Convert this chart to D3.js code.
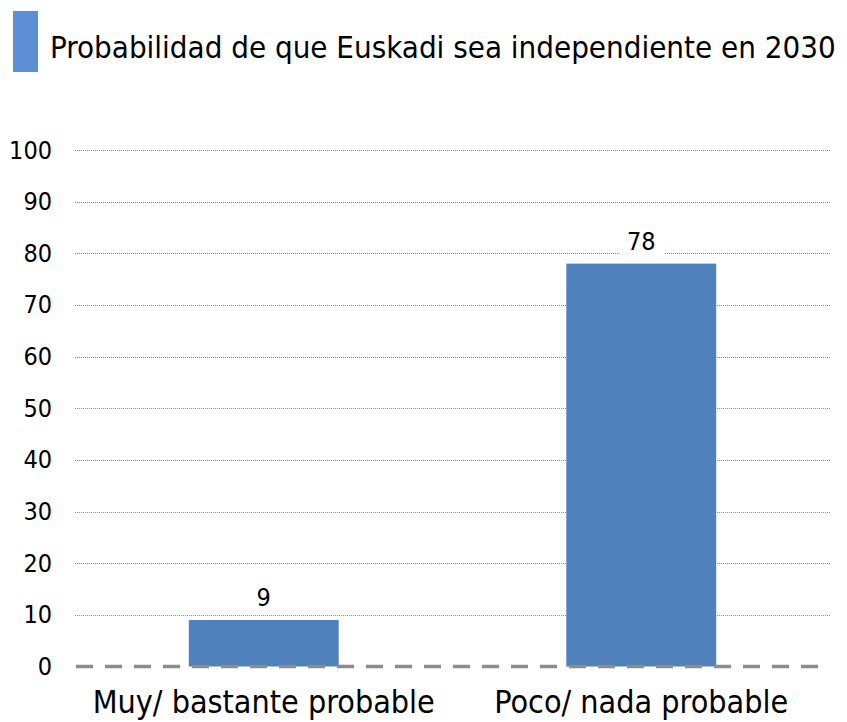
<!DOCTYPE html>
<html>
<head>
<meta charset="utf-8">
<script src="https://cdn.jsdelivr.net/npm/d3@7"></script>
<style>
  body { margin: 0; background: #fff; }
  text { font-family: "DejaVu Sans Condensed", "DejaVu Sans", sans-serif; fill: #000; }
</style>
</head>
<body>
<svg id="chart" width="847" height="722"></svg>
<script>
var title = "Probabilidad de que Euskadi sea independiente en 2030";
var categories = ["Muy/ bastante probable", "Poco/ nada probable"];
var values = [9, 78];
var yTicks = [0, 10, 20, 30, 40, 50, 60, 70, 80, 90, 100];

var margin = {top: 150, right: 17, bottom: 56, left: 75};
var svg = d3.select("#chart");
var width = +svg.attr("width") - margin.left - margin.right;
var height = +svg.attr("height") - margin.top - margin.bottom;

var x = d3.scaleBand()
    .domain(categories)
    .range([0, width]);

var y = d3.scaleLinear()
    .domain([0, 100])
    .range([height + 0.5, 0]);

var barW = x.bandwidth() * 0.397;

// title with legend swatch
svg.append("rect")
    .attr("x", 13).attr("y", 11)
    .attr("width", 25).attr("height", 61)
    .attr("fill", "#5b8fd6");
svg.append("text")
    .attr("x", 50).attr("y", 58)
    .attr("font-size", "31px")
    .text(title);

var g = svg.append("g").attr("transform", "translate(" + margin.left + "," + margin.top + ")");

// dotted gridlines
g.selectAll(".grid")
  .data(yTicks.filter(function(d) { return d > 0; }))
  .enter().append("line")
    .attr("x1", 0).attr("x2", width)
    .attr("y1", function(d) { return Math.round(y(d)) + 0.5; })
    .attr("y2", function(d) { return Math.round(y(d)) + 0.5; })
    .attr("stroke", "#8c8c8c")
    .attr("stroke-width", 1)
    .attr("stroke-dasharray", "1,1");

// y tick labels
var yAxis = g.append("g")
    .call(d3.axisLeft(y).tickValues(yTicks).tickSize(0).tickPadding(23));
yAxis.select(".domain").remove();
yAxis.selectAll("text")
    .attr("font-size", "25px")
    .attr("font-family", null)
    .attr("fill", "#000");

// bars
g.selectAll(".bar")
  .data(values)
  .enter().append("rect")
    .attr("x", function(d, i) { return x(categories[i]) + (x.bandwidth() - barW) / 2; })
    .attr("y", function(d) { return y(d); })
    .attr("width", barW)
    .attr("height", function(d) { return y(0) - y(d); })
    .attr("fill", "#4f81bd");

// value labels with white backing
var lab = g.selectAll(".lab")
  .data(values)
  .enter().append("g")
    .attr("transform", function(d, i) {
      return "translate(" + (x(categories[i]) + x.bandwidth() / 2) + "," + (y(d) - 14) + ")";
    });
lab.append("rect")
    .attr("x", -22).attr("y", -25)
    .attr("width", 45).attr("height", 30)
    .attr("fill", "#fff");
lab.append("text")
    .attr("text-anchor", "middle")
    .attr("font-size", "25px")
    .text(function(d) { return d; });

// dashed baseline
g.append("line")
    .attr("x1", 1).attr("x2", width)
    .attr("y1", y(0)).attr("y2", y(0))
    .attr("stroke", "#8c8c8c")
    .attr("stroke-width", 3.5)
    .attr("stroke-dasharray", "17,12");

// category labels
var xAxis = g.append("g")
    .attr("transform", "translate(0," + y(0) + ")")
    .call(d3.axisBottom(x).tickSize(0).tickPadding(24));
xAxis.select(".domain").remove();
xAxis.selectAll("text")
    .attr("font-size", "32px")
    .attr("font-family", null)
    .attr("fill", "#000");
</script>
</body>
</html>
